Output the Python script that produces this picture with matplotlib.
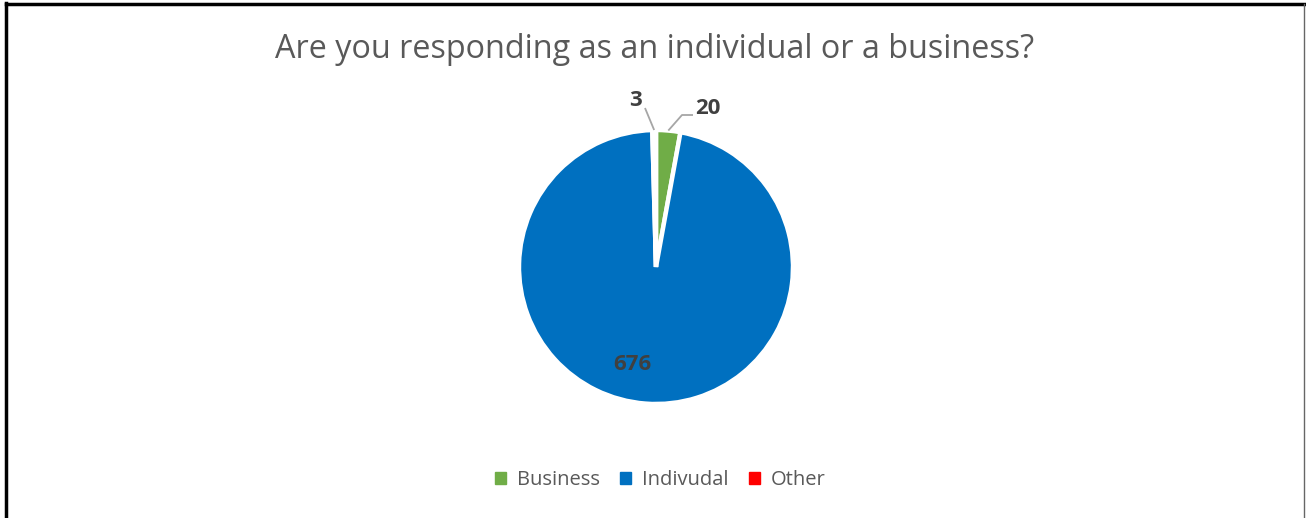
import numpy as np
import matplotlib
matplotlib.use("Agg")
import matplotlib.pyplot as plt
from matplotlib.lines import Line2D
from matplotlib.patches import Rectangle

# ---- data ----
categories = ["Business", "Indivudal", "Other"]
values = [20, 676, 3]
colors = ["#70AD47", "#0070C0", "#FF0000"]
title = "Are you responding as an individual or a business?"

W, H = 1306, 518
fig = plt.figure(figsize=(W / 100, H / 100), dpi=100)
ax = fig.add_axes([0, 0, 1, 1])
ax.set_xlim(0, W)
ax.set_ylim(0, H)
ax.axis("off")

cx, cy, R = 656, H - 267, 137
wedges, _ = ax.pie(values, colors=colors, startangle=90, counterclock=False,
                   center=(cx, cy), radius=R,
                   wedgeprops=dict(edgecolor="white", linewidth=3.2))
ax.set_xlim(0, W)
ax.set_ylim(0, H)
ax.set_aspect("auto")

# label positions (pixel layout, y from top)
label_pos = {"Business": (708, 108), "Indivudal": (632, 365), "Other": (636, 100)}
leader_end = {"Business": [(682, 115), (693, 115)], "Other": [(645, 108)]}
lab_font = dict(fontsize=16, fontweight="bold", color="#404040", family="Open Sans")

for w, cat, v in zip(wedges, categories, values):
    x, y = label_pos[cat]
    ax.text(x, H - y, str(v), ha="center", va="center", **lab_font)
    if cat in leader_end:
        mid = np.deg2rad((w.theta1 + w.theta2) / 2)
        ex, ey = cx + R * np.cos(mid), cy + R * np.sin(mid)
        pts = [(ex, ey)] + [(px, H - py) for px, py in leader_end[cat]]
        xs, ys = zip(*pts)
        ax.plot(xs, ys, color="#A6A6A6", lw=1.3, solid_capstyle="butt")

fig.text(655 / W, 1 - 50 / H, title, ha="center", va="center",
         fontsize=23.3, color="#595959", family="Open Sans")

handles = [Rectangle((0, 0), 1, 1, color=c) for c in colors]
leg = fig.legend(handles, categories, loc="center", bbox_to_anchor=(660 / W, 1 - 480 / H),
                 ncol=3, frameon=False, handlelength=0.55, handleheight=0.55,
                 handletextpad=0.55, columnspacing=1.0,
                 prop=dict(family="Open Sans", size=14.5))
for t in leg.get_texts():
    t.set_color("#595959")

# border
fig.add_artist(Line2D([6 / W, 6 / W], [0, 1 - 3 / H], transform=fig.transFigure, color="black", lw=2.5))
fig.add_artist(Line2D([6 / W, 1304 / W], [1 - 4 / H, 1 - 4 / H], transform=fig.transFigure, color="black", lw=2.5))
fig.add_artist(Line2D([1304 / W, 1304 / W], [0, 1 - 4 / H], transform=fig.transFigure, color="#666666", lw=1))

fig.savefig("out.png", dpi=100)
